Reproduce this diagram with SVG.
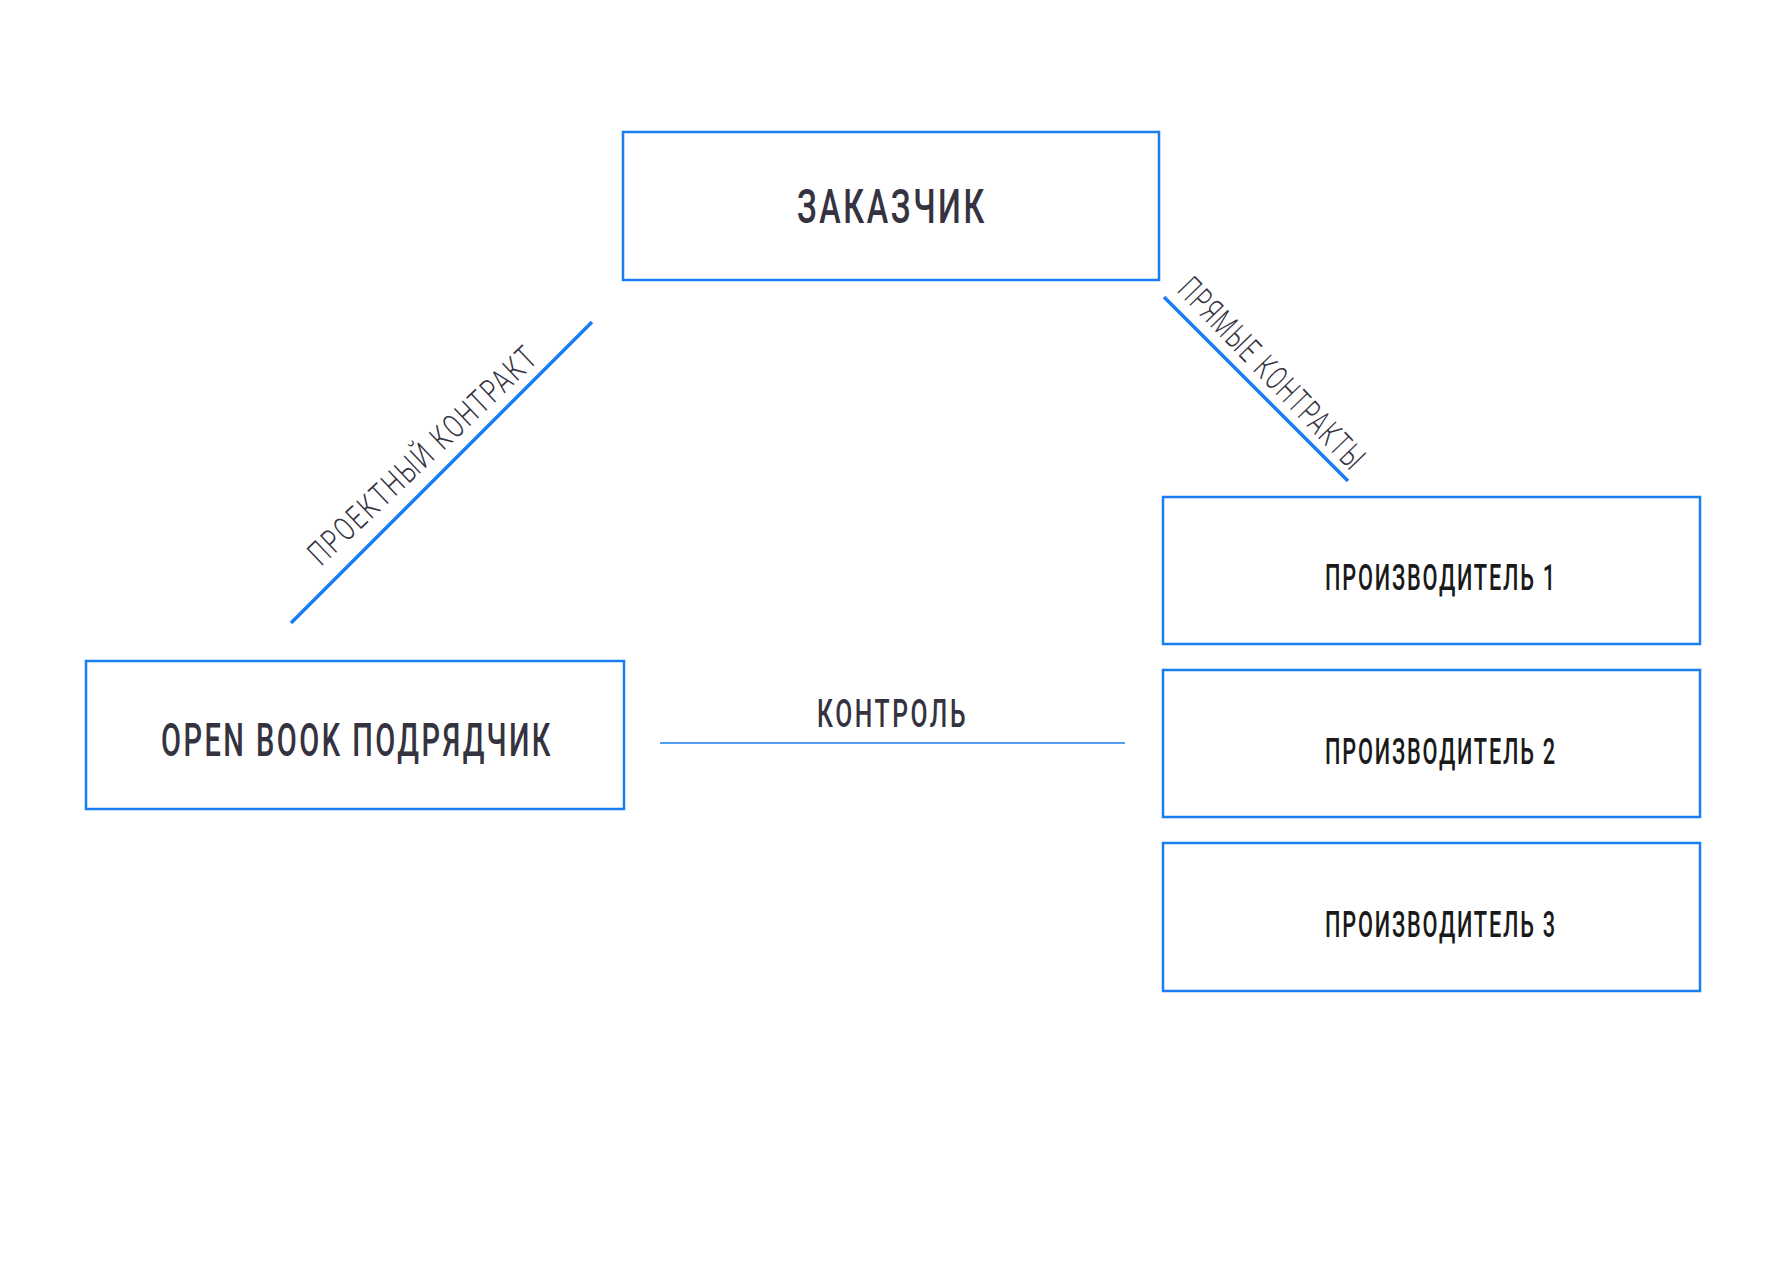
<svg xmlns="http://www.w3.org/2000/svg" width="1782" height="1265" viewBox="0 0 1782 1265">
<style>
.box{fill:#ffffff;stroke:#1a7df2;stroke-width:2.5}
.t{font-family:Roboto,"Liberation Sans",sans-serif;fill:#35333f;font-weight:500;letter-spacing:4px}
.p{font-family:Roboto,"Liberation Sans",sans-serif;fill:#1a1a1a;font-weight:500;letter-spacing:3px}
.lbl{font-family:Roboto,"Liberation Sans",sans-serif;fill:#35333f;font-weight:300;letter-spacing:3px}
.diag{stroke:#1a7df2;stroke-width:3.5;fill:none}
.ctl{stroke:#1a7df2;stroke-width:1.5;fill:none}
</style>
<rect width="1782" height="1265" fill="#ffffff"/>
<g id="connectors">
<line class="diag" x1="291" y1="623" x2="592" y2="322"/>
<line class="diag" x1="1164" y1="297" x2="1348" y2="481"/>
<line class="ctl" x1="660" y1="743" x2="1125" y2="743"/>
<text class="lbl" font-size="33" textLength="302" lengthAdjust="spacingAndGlyphs" transform="translate(321,567) rotate(-43.4)">ПРОЕКТНЫЙ КОНТРАКТ</text>
<text class="lbl" font-size="34" font-weight="400" textLength="253" lengthAdjust="spacingAndGlyphs" transform="translate(1176,291) rotate(46)">ПРЯМЫЕ КОНТРАКТЫ</text>
<text class="t" x="817" y="727" font-size="38" textLength="151" lengthAdjust="spacingAndGlyphs">КОНТРОЛЬ</text>
</g>
<g id="zakazchik">
<rect class="box" x="623" y="132" width="536" height="148"/>
<text class="t" x="797" y="223" font-size="49" textLength="190" lengthAdjust="spacingAndGlyphs">ЗАКАЗЧИК</text>
</g>
<g id="podryadchik">
<rect class="box" x="86" y="661" width="538" height="148"/>
<text class="t" x="161" y="756" font-size="47" textLength="392" lengthAdjust="spacingAndGlyphs">OPEN BOOK ПОДРЯДЧИК</text>
</g>
<g id="proizvoditel1">
<rect class="box" x="1163" y="497" width="537" height="147"/>
<text class="p" x="1325" y="590" font-size="36" textLength="232" lengthAdjust="spacingAndGlyphs">ПРОИЗВОДИТЕЛЬ 1</text>
</g>
<g id="proizvoditel2">
<rect class="box" x="1163" y="670" width="537" height="147"/>
<text class="p" x="1325" y="764" font-size="36" textLength="232" lengthAdjust="spacingAndGlyphs">ПРОИЗВОДИТЕЛЬ 2</text>
</g>
<g id="proizvoditel3">
<rect class="box" x="1163" y="843" width="537" height="148"/>
<text class="p" x="1325" y="937" font-size="36" textLength="232" lengthAdjust="spacingAndGlyphs">ПРОИЗВОДИТЕЛЬ 3</text>
</g>
</svg>
